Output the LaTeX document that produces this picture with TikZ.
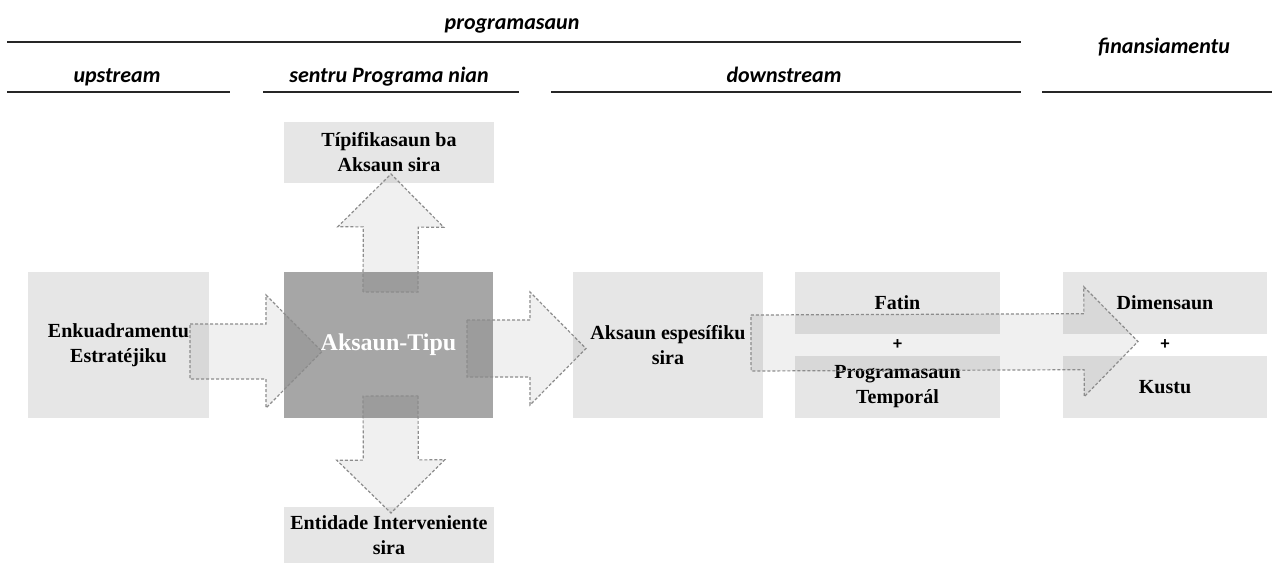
\documentclass[tikz,border=0pt]{standalone}
\usepackage{fontspec}
\usepackage{tikz}
\usetikzlibrary{positioning,calc}
\newfontfamily\headfont{Carlito}
\newfontfamily\boxfont{Liberation Serif}
\definecolor{boxgray}{HTML}{E6E6E6}
\definecolor{tipugray}{HTML}{A6A6A6}
\tikzset{
      head/.style={font=\headfont\bfseries\itshape\fontsize{22}{26}\selectfont,inner sep=0pt,anchor=base},
      rule/.style={line width=2pt,black!85},
      lbox/.style={fill=boxgray,inner sep=0pt,outer sep=0pt,align=center,anchor=north west,
        font=\boxfont\bfseries\fontsize{20}{25}\selectfont},
      dbox/.style={lbox,fill=tipugray,text=white,font=\boxfont\bfseries\fontsize{24}{28}\selectfont},
      plus/.style={font=\headfont\bfseries\fontsize{18}{20}\selectfont,inner sep=0pt},
      blockarr/.style n args={3}{ % shaft half width, head half width, head length
        fill=black,fill opacity=0.06,draw=black!45,line width=1.2pt,dash pattern=on 3pt off 2pt,
        to path={
          ($(\tikztotarget)!#3!(\tikztostart)$) coordinate (hb)
          ($(\tikztostart)!#1!90:(\tikztotarget)$)
          -- ($(hb)!#1!90:(\tikztotarget)$)
          -- ($(hb)!#2!90:(\tikztotarget)$)
          -- (\tikztotarget)
          -- ($(hb)!#2!-90:(\tikztotarget)$)
          -- ($(hb)!#1!-90:(\tikztotarget)$)
          -- ($(\tikztostart)!#1!-90:(\tikztotarget)$) -- cycle
        }
      }
    }
\begin{document}
\begin{tikzpicture}[x=1pt,y=-1pt]
\useasboundingbox (0,0) rectangle (1274,563);
% header
\node[head] (prog) at (512,29) {programasaun};
\node[head] (fin) at (1164,53) {finansiamentu};
\node[head] (up) at (117,82) {upstream};
\node[head] (sentru) at (389,82) {sentru Programa nian};
\node[head] (down) at (784,82) {downstream};
\draw[rule] (7,42) -- (1021,42);
\draw[rule] (7,92) -- (230,92);
\draw[rule] (263,92) -- (519,92);
\draw[rule] (551,92) -- (1021,92);
\draw[rule] (1042,92) -- (1272,92);
% boxes
\node[lbox,minimum width=181pt,minimum height=146pt] (enk) at (28,272) {Enkuadramentu\\Estratéjiku};
\node[dbox,minimum width=209pt,minimum height=146pt] (tipu) at (284,272) {Aksaun-Tipu};
\node[lbox,minimum width=210pt,minimum height=61pt] (tipif) at (284,122) {Típifikasaun ba\\Aksaun sira};
\node[lbox,minimum width=210pt,minimum height=56pt] (ent) at (284,507) {Entidade Interveniente\\sira};
\node[lbox,minimum width=190pt,minimum height=146pt] (esp) at (573,272) {Aksaun espesífiku\\sira};
\node[lbox,minimum width=205pt,minimum height=62pt] (fatin) at (795,272) {Fatin};
\node[lbox,minimum width=205pt,minimum height=62pt,below=22pt of fatin] (temp) {Programasaun\\Temporál};
\node[lbox,minimum width=204pt,minimum height=62pt] (dim) at (1063,272) {Dimensaun};
\node[lbox,minimum width=204pt,minimum height=62pt,below=22pt of dim] (kus) {Kustu};
\node[plus] (pl1) at ($(fatin.south)!.5!(temp.north)$) {+};
\node[plus] (pl2) at ($(dim.south)!.5!(kus.north)$) {+};
% arrows
\coordinate (lA) at ($(enk.east)+(-19,6.5)$);
\coordinate (lB) at ($(tipu.west)+(38,6.5)$);
\coordinate (rA) at ($(tipu.east)+(-26,3.5)$);
\coordinate (rB) at ($(esp.west)+(13,3.5)$);
\coordinate (tA) at ($(tipu.north)+(2,20)$);
\coordinate (tB) at ($(tipif.south)+(2,-9)$);
\coordinate (bA) at ($(tipu.south)+(2,-22)$);
\coordinate (bB) at ($(ent.north)+(2,6)$);
\coordinate (gA) at ($(esp.east)+(-12,-2)$);
\coordinate (gB) at ($(pl2)+(-27,-3.5)$);
\draw[blockarr={27.5pt}{56.5pt}{56pt}] (lA) to (lB);
\draw[blockarr={28.5pt}{56.5pt}{56pt}] (rA) to (rB);
\draw[blockarr={27.5pt}{53pt}{53pt}] (tA) to (tB);
\draw[blockarr={27.5pt}{54pt}{53pt}] (bA) to (bB);
\draw[blockarr={28pt}{55pt}{54pt}] (gA) to (gB);
\end{tikzpicture}
\end{document}
